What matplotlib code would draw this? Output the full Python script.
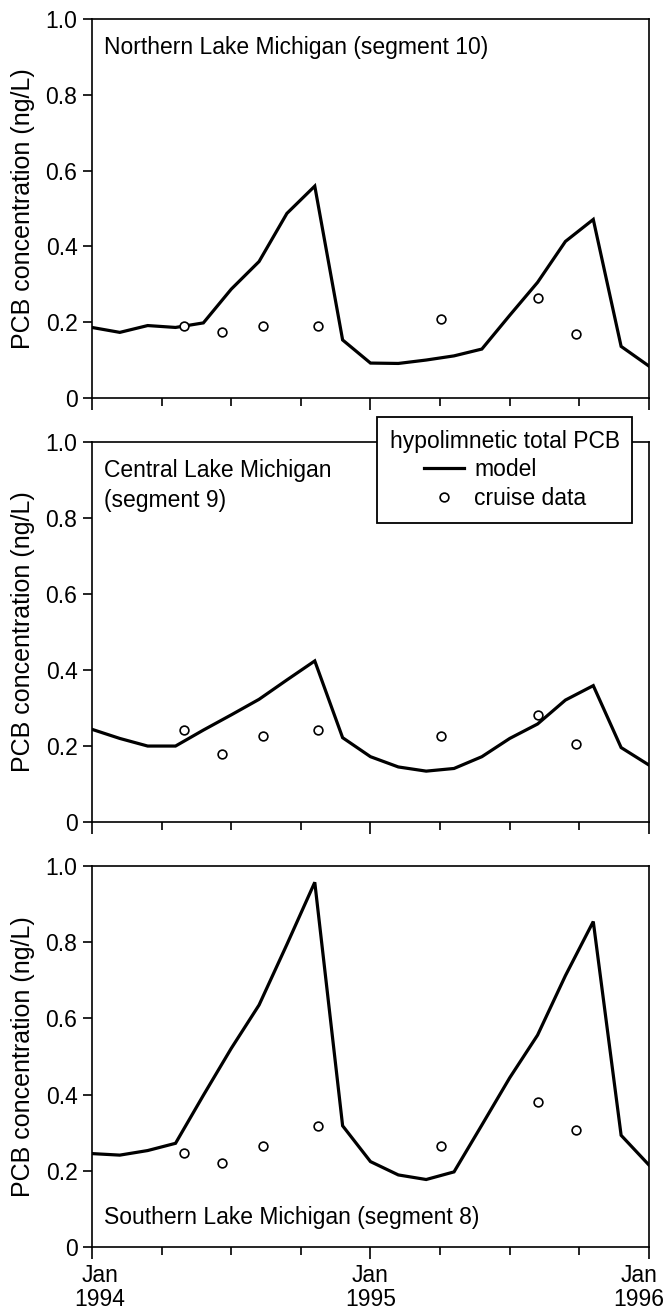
import matplotlib
matplotlib.use("Agg")
import matplotlib.pyplot as plt
import matplotlib.transforms as mtransforms

plt.rcParams['font.family'] = ['Liberation Sans', 'DejaVu Sans']

# model output, months since Jan 1994
model_month = [0.0, 1.2, 2.4, 3.6, 4.8, 6.0, 7.2, 8.4, 9.6, 10.8, 12.0,
               13.2, 14.4, 15.6, 16.8, 18.0, 19.2, 20.4, 21.6, 22.8, 24.0]
north_model = [0.186, 0.173, 0.191, 0.186, 0.198, 0.287, 0.360, 0.487, 0.559, 0.153, 0.092,
               0.091, 0.100, 0.111, 0.129, 0.218, 0.305, 0.413, 0.471, 0.136, 0.084]
central_model = [0.244, 0.220, 0.200, 0.200, 0.242, 0.282, 0.323, 0.374, 0.424, 0.222, 0.172,
                 0.145, 0.134, 0.141, 0.172, 0.220, 0.258, 0.321, 0.359, 0.196, 0.150]
south_model = [0.245, 0.241, 0.253, 0.272, 0.398, 0.521, 0.635, 0.794, 0.957, 0.318, 0.224,
               0.189, 0.177, 0.197, 0.320, 0.444, 0.556, 0.712, 0.854, 0.293, 0.215]

# cruise observations
cruise_month = [3.95, 5.59, 7.38, 9.74, 15.03, 19.20, 20.85]
north_obs = [0.189, 0.174, 0.190, 0.190, 0.209, 0.263, 0.168]
central_obs = [0.242, 0.178, 0.227, 0.242, 0.227, 0.281, 0.205]
south_obs = [0.247, 0.221, 0.264, 0.318, 0.265, 0.381, 0.306]

panel_text = [["Northern Lake Michigan (segment 10)"],
              ["Central Lake Michigan", "(segment 9)"],
              ["Southern Lake Michigan (segment 8)"]]
year_ticks = [0, 12, 24]
year_labels = ["Jan\n1994", "Jan\n1995", "Jan\n1996"]
quarter_ticks = [3, 6, 9, 15, 18, 21]
conc_ticks = [0, 0.2, 0.4, 0.6, 0.8, 1.0]
conc_labels = ["0", "0.2", "0.4", "0.6", "0.8", "1.0"]

FS = 16.5

fig = plt.figure(figsize=(6.65, 13.09), dpi=100)
left, width = 0.1383, 0.8376
boxes = [(0.6960, 0.2895), (0.3720, 0.2903), (0.0474, 0.2911)]
models = [north_model, central_model, south_model]
obs = [north_obs, central_obs, south_obs]
# text line positions (axes fraction)
text_y = [[0.926], [0.926, 0.847], [0.076]]

axes = []
for i, (b, h) in enumerate(boxes):
    ax = fig.add_axes([left, b, width, h])
    axes.append(ax)
    line, = ax.plot(model_month, models[i], color='black', lw=2.3,
                    solid_joinstyle='miter', zorder=2)
    pts, = ax.plot(cruise_month, obs[i], linestyle='none', marker='o', ms=6.3,
                   mfc='white', mec='black', mew=1.2, zorder=3)

    ax.set_xlim(0, 24)
    ax.set_ylim(0, 1.0)
    ax.set_yticks(conc_ticks)
    ax.set_yticklabels(conc_labels)
    ax.set_xticks(year_ticks)
    ax.set_xticks(quarter_ticks, minor=True)
    if i == 2:
        ax.set_xticklabels(year_labels, linespacing=1.05)
    else:
        ax.set_xticklabels([])

    for s in ax.spines.values():
        s.set_linewidth(1.2)
    ax.tick_params(axis='x', which='major', direction='out', length=8.6, width=1.2,
                   pad=3.5, labelsize=FS)
    ax.tick_params(axis='x', which='minor', direction='out', length=5.8, width=1.2)
    ax.tick_params(axis='y', direction='out', length=6.5, width=1.2, pad=4.0,
                   labelsize=FS)

    ax.set_ylabel("PCB concentration (ng/L)", fontsize=18)
    ax.yaxis.set_label_coords(-0.102, 0.5)

    for txt, ty in zip(panel_text[i], text_y[i]):
        ax.text(0.022, ty, txt, transform=ax.transAxes, ha='left', va='center',
                fontsize=FS)

    if i == 1:
        leg = ax.legend([line, pts], ["model", "cruise data"],
                        title="hypolimnetic total PCB", loc='upper left',
                        bbox_to_anchor=(0.512, 1.066), borderaxespad=0,
                        frameon=True, fancybox=False, framealpha=1,
                        edgecolor='black', numpoints=1, handlelength=1.75,
                        handletextpad=0.45, labelspacing=0.25, borderpad=0.55,
                        fontsize=FS, title_fontsize=FS)
        leg.get_frame().set_linewidth(1.3)
        leg.set_zorder(10)

# nudge the outer year labels inward like the original
ax3 = axes[2]
for lbl, dx in zip(ax3.get_xticklabels(), [8, 0, -10]):
    lbl.set_transform(lbl.get_transform() +
                      mtransforms.ScaledTranslation(dx / 100, 0, fig.dpi_scale_trans))

fig.savefig("out.png", dpi=100, facecolor='white')
